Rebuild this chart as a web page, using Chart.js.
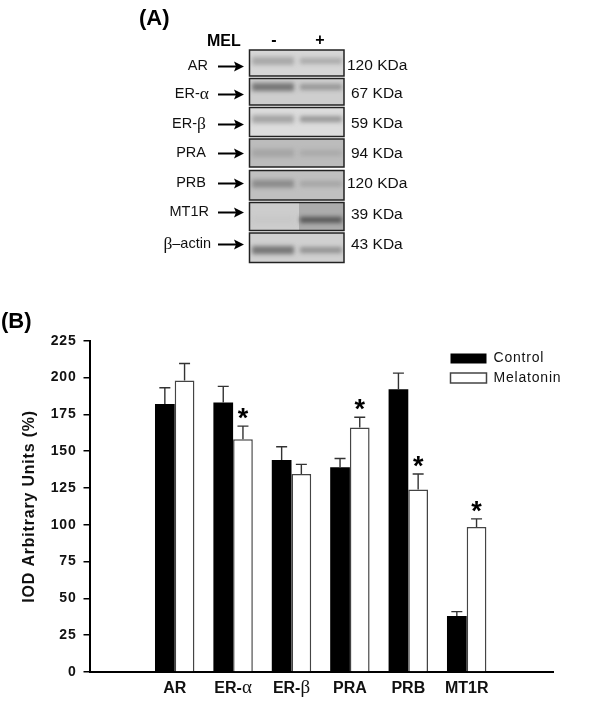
<!DOCTYPE html>
<html>
<head>
<meta charset="utf-8">
<style>
  html, body { margin: 0; background: #fff; }
  canvas { display: block; filter: blur(0.4px); }
</style>
<script src="https://cdn.jsdelivr.net/npm/chart.js@4"></script>
</head>
<body>
<canvas id="myChart" width="600" height="701"></canvas>
<script>
// panel B values
const categories = ["AR", "ER-α", "ER-β", "PRA", "PRB", "MT1R"];
const controlValues = [182, 183, 144, 139, 192, 38];
const controlErrors = [193, 194, 153, 145, 203, 41];
const melatoninValues = [198, 158, 134.5, 166, 124, 98.5];
const melatoninErrors = [209.5, 167, 141, 173, 134.5, 104];
const melatoninStars = [false, true, false, true, true, true];
const yTicks = [0, 25, 50, 75, 100, 125, 150, 175, 200, 225];

// panel A labels and grey levels
const blotLabels = ["AR", "ER-α", "ER-β", "PRA", "PRB", "MT1R", "β–actin"];
const blotSizes = ["120 KDa", "67 KDa", "59 KDa", "94 KDa", "120 KDa", "39 KDa", "43 KDa"];
const blotGrey = [214, 206, 220, 188, 192, 205, 208];
const plusLaneGrey = [214, 206, 220, 188, 192, 172, 208];
const minusBand = [168, 118, 165, 165, 140, 200, 118];
const plusBand = [170, 150, 150, 170, 165, 85, 145];

const SANS = '"Liberation Sans", Arial, sans-serif';
const SERIF = '"Liberation Serif", serif';

// draws text where greek letters use a serif face
function mixedText(ctx, text, x, y, size, weight, align) {
    const parts = text.split(/([αβ])/).filter(Boolean);
    const fontFor = (p) => /[αβ]/.test(p)
        ? `${size + 3}px ${SERIF}`
        : `${weight} ${size}px ${SANS}`;
    let total = 0;
    parts.forEach((p) => { ctx.font = fontFor(p); total += ctx.measureText(p).width; });
    let cx = x;
    if (align === "center") cx = x - total / 2;
    if (align === "right") cx = x - total;
    ctx.textAlign = "left";
    ctx.textBaseline = "middle";
    parts.forEach((p) => {
        ctx.font = fontFor(p);
        ctx.fillText(p, cx, y);
        cx += ctx.measureText(p).width;
    });
}

const blotTop = [50, 78.5, 107.5, 139, 170.5, 202.5, 233];
const blotBottom = [76, 105, 136.5, 167, 200, 230.5, 262.5];
const bandAt = [0.42, 0.32, 0.4, 0.5, 0.45, 0.62, 0.58];
const labelY = [66, 94, 124, 153, 183, 212, 244];
const sizeY = [66, 94, 124, 154, 184, 215, 245];

const panelA = {
    id: "panelA",
    afterDraw(chart) {
        const ctx = chart.ctx;
        ctx.save();
        ctx.letterSpacing = "0px";
        ctx.fillStyle = "#000";
        ctx.font = `bold 22px ${SANS}`;
        ctx.textAlign = "left";
        ctx.textBaseline = "middle";
        ctx.fillText("(A)", 139, 19);
        ctx.fillText("(B)", 1, 322);
        ctx.font = `bold 16px ${SANS}`;
        ctx.fillText("MEL", 207, 42);
        ctx.textAlign = "center";
        ctx.fillText("-", 274, 41);
        ctx.fillText("+", 320, 41);

        blotLabels.forEach((label, i) => {
            const top = blotTop[i];
            const h = blotBottom[i] - top;
            const g = blotGrey[i];
            const pg = plusLaneGrey[i];
            ctx.save();
            ctx.beginPath();
            ctx.rect(250, top, 94, h);
            ctx.clip();
            ctx.fillStyle = `rgb(${g},${g},${g})`;
            ctx.fillRect(250, top, 94, h);
            ctx.fillStyle = `rgb(${pg},${pg},${pg})`;
            ctx.fillRect(299, top, 45, h);
            ctx.filter = "blur(2px)";
            const y = top + h * bandAt[i];
            ctx.fillStyle = `rgb(${minusBand[i]},${minusBand[i]},${minusBand[i]})`;
            ctx.fillRect(252, y - 4, 42, 8);
            ctx.fillStyle = `rgb(${plusBand[i]},${plusBand[i]},${plusBand[i]})`;
            ctx.fillRect(300, y - 3, 42, 6);
            ctx.restore();

            ctx.strokeStyle = "#222";
            ctx.lineWidth = 1.5;
            ctx.strokeRect(249.5, top, 94.5, h);

            ctx.fillStyle = "#111";
            const rightEdge = [208, 209, 206, 206, 206, 209, 211][i];
            mixedText(ctx, label, rightEdge, labelY[i], 14.5, "normal", "right");

            // arrow
            const ay = labelY[i] + 0.5;
            ctx.strokeStyle = "#000";
            ctx.lineWidth = 2;
            ctx.beginPath();
            ctx.moveTo(218, ay);
            ctx.lineTo(240, ay);
            ctx.stroke();
            ctx.fillStyle = "#000";
            ctx.beginPath();
            ctx.moveTo(244, ay);
            ctx.lineTo(234, ay - 5);
            ctx.lineTo(236, ay);
            ctx.lineTo(234, ay + 5);
            ctx.closePath();
            ctx.fill();

            ctx.fillStyle = "#111";
            ctx.font = `15.5px ${SANS}`;
            ctx.textAlign = "left";
            ctx.textBaseline = "middle";
            ctx.fillText(blotSizes[i], blotSizes[i].length > 6 ? 347 : 351, sizeY[i]);
        });
        ctx.restore();
    },
};

const errorBars = {
    id: "errorBars",
    afterDatasetsDraw(chart) {
        const ctx = chart.ctx;
        const yScale = chart.scales.y;
        ctx.save();
        ctx.letterSpacing = "0px";
        ctx.strokeStyle = "#333";
        ctx.lineWidth = 1.4;
        [controlErrors, melatoninErrors].forEach((errs, d) => {
            chart.getDatasetMeta(d).data.forEach((bar, i) => {
                const top = yScale.getPixelForValue(errs[i]);
                ctx.beginPath();
                ctx.moveTo(bar.x, bar.y);
                ctx.lineTo(bar.x, top);
                ctx.moveTo(bar.x - 5.5, top);
                ctx.lineTo(bar.x + 5.5, top);
                ctx.stroke();
                if (d === 1 && melatoninStars[i]) {
                    ctx.fillStyle = "#000";
                    ctx.font = `bold 27px ${SANS}`;
                    ctx.textAlign = "center";
                    ctx.textBaseline = "alphabetic";
                    ctx.fillText("*", bar.x, top + 1);
                }
            });
        });
        // category labels sit under the axis, greek in serif
        ctx.fillStyle = "#111";
        categories.forEach((c, i) => {
            const x = chart.scales.x.getPixelForValue(i);
            mixedText(ctx, c, x, 688.5, 16, "bold", "center");
        });
        ctx.restore();
    },
};

// legend is the library's own, just moved to where the figure has it
const moveLegend = {
    id: "moveLegend",
    beforeUpdate(chart) {
        // axis and legend text in the figure is widely spaced
        chart.ctx.letterSpacing = "0.8px";
    },
    afterLayout(chart) {
        const lg = chart.legend;
        lg.left = 445;
        lg.right = 600;
        lg.top = 346;
        lg.bottom = 420;
    },
};

new Chart(document.getElementById("myChart").getContext("2d"), {
    type: "bar",
    data: {
        datasets: [
            {
                label: "Control",
                data: controlValues.map((v, i) => ({ x: i, y: v })),
                backgroundColor: "#000",
                borderColor: "#000",
                borderWidth: 0,
            },
            {
                label: "Melatonin",
                data: melatoninValues.map((v, i) => ({ x: i, y: v })),
                backgroundColor: "#fff",
                borderColor: "#444",
                borderWidth: 1.5,
            },
        ],
    },
    options: {
        responsive: false,
        animation: false,
        layout: { padding: { top: 340.7, right: 47, left: 0, bottom: 0 } },
        datasets: { bar: { barPercentage: 1, categoryPercentage: 0.675 } },
        scales: {
            x: {
                type: "linear",
                offset: false,
                min: -1.459,
                max: 6.478,
                afterFit: (s) => { s.height = 29; },
                grid: { display: false },
                border: { color: "#000", width: 2 },
                ticks: { display: false },
            },
            y: {
                min: 0,
                max: 225,
                afterFit: (s) => { s.width = 89.5; },
                afterBuildTicks: (s) => { s.ticks = yTicks.map((v) => ({ value: v })); },
                grid: { drawOnChartArea: false, color: "#000", lineWidth: 1.5, tickLength: 6 },
                border: { color: "#000", width: 2 },
                ticks: {
                    color: "#111",
                    padding: 7,
                    font: { family: SANS, size: 14, weight: "bold" },
                },
                title: {
                    display: true,
                    text: "IOD Arbitrary Units (%)",
                    color: "#111",
                    padding: { top: 20, bottom: 0 },
                    font: { family: SANS, size: 16, weight: "bold" },
                },
            },
        },
        plugins: {
            tooltip: { enabled: false },
            legend: {
                position: "chartArea",
                align: "start",
                labels: {
                    boxWidth: 36,
                    boxHeight: 10,
                    color: "#111",
                    padding: 5.5,
                    font: { family: SANS, size: 14 },
                },
            },
        },
    },
    plugins: [panelA, errorBars, moveLegend],
});
</script>
</body>
</html>
